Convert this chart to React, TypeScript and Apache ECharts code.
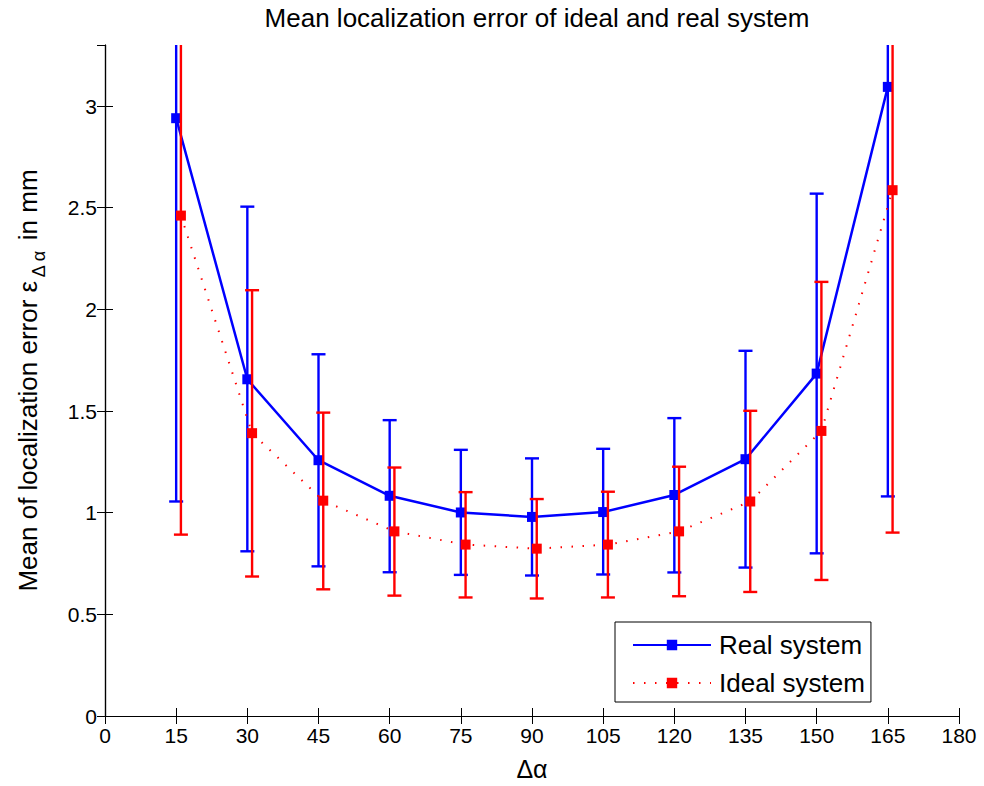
import React, { useEffect, useRef } from "react";
import * as echarts from "echarts";

const angles = [15, 30, 45, 60, 75, 90, 105, 120, 135, 150, 165];
const realMean = [2.94, 1.656, 1.258, 1.083, 1.001, 0.979, 1.003, 1.087, 1.263, 1.684, 3.094];
const realLow = [1.055, 0.81, 0.736, 0.707, 0.694, 0.691, 0.696, 0.706, 0.73, 0.8, 1.08];
const realHigh = [4.83, 2.505, 1.779, 1.455, 1.309, 1.267, 1.314, 1.465, 1.796, 2.569, 5.11];

const idealAngles = [16, 31, 46, 61, 76, 91, 106, 121, 136, 151, 166];
const idealMean = [2.461, 1.391, 1.059, 0.908, 0.843, 0.823, 0.843, 0.908, 1.055, 1.402, 2.586];
const idealLow = [0.892, 0.686, 0.623, 0.592, 0.583, 0.578, 0.583, 0.589, 0.61, 0.669, 0.902];
const idealHigh = [4.03, 2.094, 1.492, 1.222, 1.101, 1.067, 1.103, 1.226, 1.501, 2.135, 4.27];

const FONT = "'Liberation Sans', Arial, Helvetica, sans-serif";
const BLUE = "#0000ff";
const RED = "#ff0000";

function errorBarRender(color: string) {
  return (params: any, api: any) => {
    const x = api.value(0);
    const lo = api.coord([x, api.value(1)]);
    const hi = api.coord([x, api.value(2)]);
    const half = 7;
    const style = { stroke: color, lineWidth: 2.4 };
    return {
      type: "group",
      children: [
        { type: "line", shape: { x1: lo[0], y1: lo[1], x2: hi[0], y2: hi[1] }, style },
        { type: "line", shape: { x1: lo[0] - half, y1: lo[1], x2: lo[0] + half, y2: lo[1] }, style },
        { type: "line", shape: { x1: hi[0] - half, y1: hi[1], x2: hi[0] + half, y2: hi[1] }, style },
      ],
    };
  };
}

export default function App() {
  const ref = useRef<HTMLDivElement>(null);
  useEffect(() => {
    if (!ref.current) return;
    const chart = echarts.init(ref.current, undefined, { renderer: "svg" });
    const axisCommon = {
      type: "value",
      axisLine: { show: true, lineStyle: { color: "#000", width: 1.2 } },
      axisTick: { show: true, inside: true, length: 8, lineStyle: { color: "#000", width: 1 } },
      splitLine: { show: false },
    };
    const option: any = {
      animation: false,
      backgroundColor: "#fff",
      textStyle: { fontFamily: FONT },
      title: {
        text: "Mean localization error of ideal and real system",
        left: 532,
        top: 0,
        textAlign: "center",
        textStyle: { fontFamily: FONT, fontSize: 26, fontWeight: "normal", color: "#000" },
      },
      grid: { left: 104, right: 25, top: 45, bottom: 67, containLabel: false },
      legend: {
        orient: "vertical",
        left: 615,
        top: 622,
        data: ["Real system", "Ideal system"],
        backgroundColor: "#fff",
        borderColor: "#000",
        borderWidth: 1,
        borderRadius: 0,
        padding: [10, 6, 6, 17],
        itemGap: 12,
        itemWidth: 78,
        itemHeight: 13,
        textStyle: { fontFamily: FONT, fontSize: 26, lineHeight: 26, color: "#000", padding: [0, 0, 0, 3] },
      },
      xAxis: [
        {
          ...axisCommon,
          position: "bottom",
          min: 0,
          max: 180,
          interval: 15,
          name: "Δα",
          nameLocation: "middle",
          nameGap: 40,
          nameTextStyle: { fontFamily: FONT, fontSize: 25, color: "#000" },
          axisLabel: { color: "#000", fontSize: 21, fontFamily: FONT, margin: 9 },
        },
        {
          ...axisCommon,
          position: "top",
          min: 0,
          max: 180,
          interval: 15,
          axisLabel: { show: false },
        },
      ],
      yAxis: [
        {
          ...axisCommon,
          position: "left",
          min: 0,
          max: 3.3,
          interval: 0.5,
          name: "{a|Mean of localization error ε}{s|Δ α}{a| in mm}",
          nameLocation: "middle",
          nameRotate: 90,
          nameGap: 62,
          nameTextStyle: {
            fontFamily: FONT,
            color: "#000",
            rich: {
              a: { fontFamily: FONT, fontSize: 26, color: "#000", lineHeight: 30 },
              s: { fontFamily: FONT, fontSize: 18, color: "#000", lineHeight: 18, padding: [22, 3, 0, 3] },
            },
          },
          axisLabel: { color: "#000", fontSize: 21, fontFamily: FONT, margin: 8, showMaxLabel: false },
        },
        {
          ...axisCommon,
          position: "right",
          min: 0,
          max: 3.3,
          interval: 0.5,
          axisLabel: { show: false },
        },
      ],
      series: [
        {
          name: "Real error",
          type: "custom",
          renderItem: errorBarRender(BLUE),
          data: angles.map((a, i) => [a, realLow[i], realHigh[i]]),
          encode: { x: 0, y: [1, 2] },
          clip: true,
          z: 1,
        },
        {
          name: "Real system",
          type: "line",
          data: angles.map((a, i) => [a, realMean[i]]),
          symbol: "rect",
          symbolSize: 10,
          itemStyle: { color: BLUE },
          lineStyle: { color: BLUE, width: 2.5, type: "solid" },
          clip: true,
          z: 2,
        },
        {
          name: "Ideal error",
          type: "custom",
          renderItem: errorBarRender(RED),
          data: idealAngles.map((a, i) => [a, idealLow[i], idealHigh[i]]),
          encode: { x: 0, y: [1, 2] },
          clip: true,
          z: 3,
        },
        {
          name: "Ideal system",
          type: "line",
          data: idealAngles.map((a, i) => [a, idealMean[i]]),
          symbol: "rect",
          symbolSize: 10,
          itemStyle: { color: RED },
          lineStyle: { color: RED, width: 2, type: [1.5, 9.5] },
          clip: true,
          z: 4,
        },
      ],
    };
    chart.setOption(option);
    return () => chart.dispose();
  }, []);
  return <div ref={ref} style={{ width: 984, height: 786, position: "absolute", left: 0, top: 0 }} />;
}
